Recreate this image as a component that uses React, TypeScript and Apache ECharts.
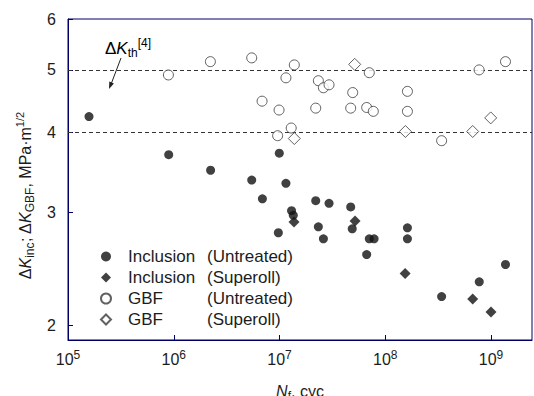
import React, { useEffect, useRef } from 'react';
import * as echarts from 'echarts';

// ---- data (N_f in cycles, ΔK in MPa·m^1/2) ----
const xMin = 1e5;
const xMax = 2.44e9;
const yMin = 1.9;
const yMax = 6;
const yTicks = [2, 3, 4, 5, 6];
const thresholdLines = [5, 4];
const seriesNames = ['Inclusion (Untreated)', 'Inclusion (Superoll)', 'GBF (Untreated)', 'GBF (Superoll)'];

const incUntreated: [number, number][] = [
  [1.58e5, 4.23], [8.96e5, 3.69], [2.23e6, 3.49], [5.46e6, 3.37], [6.89e6, 3.15],
  [9.95e6, 3.71], [1.15e7, 3.33], [9.75e6, 2.79], [1.3e7, 3.02], [1.35e7, 2.97],
  [2.2e7, 3.13], [2.94e7, 3.1], [4.71e7, 3.06], [2.33e7, 2.85], [2.6e7, 2.73],
  [4.87e7, 2.83], [7.06e7, 2.73], [7.84e7, 2.73], [6.67e7, 2.58], [1.62e8, 2.84],
  [1.62e8, 2.73], [3.41e8, 2.22], [7.74e8, 2.34], [1.37e9, 2.49],
];
const incSuperoll: [number, number][] = [
  [1.37e7, 2.9], [5.18e7, 2.91], [1.54e8, 2.41], [6.71e8, 2.2], [1.0e9, 2.1],
];
const gbfUntreated: [number, number][] = [
  [8.9e5, 4.91], [2.22e6, 5.15], [5.46e6, 5.22], [1.38e7, 5.09], [1.15e7, 4.86],
  [6.84e6, 4.47], [9.9e6, 4.33], [1.29e7, 4.06], [9.6e6, 3.95], [2.33e7, 4.81],
  [2.6e7, 4.69], [2.94e7, 4.74], [7.06e7, 4.95], [4.92e7, 4.61], [1.62e8, 4.63],
  [2.2e7, 4.36], [4.71e7, 4.36], [6.67e7, 4.37], [7.71e7, 4.31], [1.62e8, 4.31],
  [3.41e8, 3.88], [7.71e8, 5.0], [1.37e9, 5.15],
];
const gbfSuperoll: [number, number][] = [
  [1.38e7, 3.91], [5.14e7, 5.1], [1.55e8, 4.01], [6.71e8, 4.01], [9.93e8, 4.21],
];

export default function App() {
  const ref = useRef<HTMLDivElement>(null);
  useEffect(() => {
    const chart = echarts.init(ref.current!, null, { renderer: 'svg' });
    const FONT = '"Liberation Sans", Arial, sans-serif';
    const TXT = '#1c1c1c';
    const FRAME = '#000066';
    const richBase = {
      n: { fontFamily: FONT, fontSize: 16, lineHeight: 22, color: TXT },
      i: { fontFamily: FONT, fontSize: 16, lineHeight: 22, color: TXT, fontStyle: 'italic' },
      sub: { fontFamily: FONT, fontSize: 12, lineHeight: 12, color: TXT, verticalAlign: 'bottom' },
      sup: { fontFamily: FONT, fontSize: 11, lineHeight: 12, color: TXT, verticalAlign: 'top' },
    };
    const openStyle = { color: '#ffffff', borderColor: '#3a3a3a', borderWidth: 1 };
    const filledStyle = { color: '#111111' };

    chart.setOption({
      animation: false,
      grid: {
        left: 68, right: 2, top: 19, bottom: 56,
        containLabel: false,
        outerBoundsMode: 'none',
        show: true, borderColor: FRAME, borderWidth: 1,
      },
      legend: {
        orient: 'vertical',
        left: 95,
        top: 243,
        itemWidth: 10,
        itemHeight: 10,
        itemGap: 4,
        data: seriesNames,
        formatter: (name: string) => {
          const k = name.indexOf(' (');
          return `{g| }{a|${name.slice(0, k)}}{b|${name.slice(k + 1)}}`;
        },
        textStyle: {
          rich: {
            g: { width: 12, fontSize: 17, lineHeight: 17 },
            a: { width: 79, fontFamily: FONT, fontSize: 17, lineHeight: 17, color: TXT },
            b: { fontFamily: FONT, fontSize: 17, lineHeight: 17, color: TXT },
          },
        },
      },
      xAxis: {
        type: 'log',
        min: xMin,
        max: xMax,
        logBase: 10,
        name: '{i|N}{sub|f}{n|, cyc}',
        nameLocation: 'middle',
        nameGap: 40,
        nameTextStyle: { rich: richBase },
        axisLine: { show: true, onZero: false, lineStyle: { color: FRAME, width: 1 } },
        axisTick: { show: true, inside: true, length: 5, lineStyle: { color: FRAME, width: 1 } },
        minorTick: { show: false },
        splitLine: { show: false },
        axisLabel: {
          margin: 9,
          showMaxLabel: false,
          formatter: (v: number) => `{b|10}{s|${Math.round(Math.log10(v))}}`,
          rich: {
            b: { fontFamily: FONT, fontSize: 16, lineHeight: 20, color: TXT },
            s: { fontFamily: FONT, fontSize: 12, lineHeight: 15, color: TXT, verticalAlign: 'top' },
          },
        },
      },
      yAxis: [
        {
          type: 'log',
          min: yMin,
          max: yMax,
          axisLine: { show: true, onZero: false, lineStyle: { color: FRAME, width: 1 } },
          axisTick: { show: false },
          axisLabel: { show: false },
          splitLine: { show: false },
          minorTick: { show: false },
        },
        {
          type: 'value',
          position: 'left',
          min: Math.log10(yMin),
          max: Math.log10(yMax),
          name: '{n|Δ}{i|K}{sub|inc}{n|; Δ}{i|K}{sub|GBF}{n|, MPa·m}{sup|1/2}',
          nameLocation: 'middle',
          nameRotate: 90,
          nameGap: 14,
          nameTextStyle: { rich: richBase, padding: [0, 32, 0, 0] },
          axisLine: { show: false, onZero: false },
          splitLine: { show: false },
          axisTick: {
            show: true, inside: true, length: 5, lineStyle: { color: FRAME, width: 1 },
            customValues: yTicks.map((v) => Math.log10(v)),
          },
          axisLabel: {
            margin: 12,
            fontFamily: FONT,
            fontSize: 16,
            color: TXT,
            customValues: yTicks.map((v) => Math.log10(v)),
            formatter: (v: number) => String(Math.round(Math.pow(10, v))),
          },
        },
      ],
      series: [
        {
          name: seriesNames[0], type: 'scatter', yAxisIndex: 0,
          symbol: 'circle', symbolSize: 9, itemStyle: filledStyle, data: incUntreated, z: 4,
        },
        {
          name: seriesNames[1], type: 'scatter', yAxisIndex: 0,
          symbol: 'diamond', symbolSize: 11, itemStyle: filledStyle, data: incSuperoll, z: 4,
        },
        {
          name: seriesNames[2], type: 'scatter', yAxisIndex: 0,
          symbol: 'circle', symbolSize: 10, itemStyle: openStyle, data: gbfUntreated, z: 3,
          markLine: {
            silent: true,
            symbol: 'none',
            label: { show: false },
            lineStyle: { color: '#333', width: 1, type: [4, 3] },
            data: thresholdLines.map((v) => ({ yAxis: v })),
            z: 1,
          },
        },
        {
          name: seriesNames[3], type: 'scatter', yAxisIndex: 0,
          symbol: 'diamond', symbolSize: 12, itemStyle: openStyle, data: gbfSuperoll, z: 3,
        },
      ],
      graphic: [
        {
          type: 'text',
          left: 105,
          top: 37,
          style: {
            text: '{n|Δ}{i|K}{sub|th}{sup|[4]}',
            rich: {
              n: { fontFamily: FONT, fontSize: 17, lineHeight: 22, color: TXT },
              i: { fontFamily: FONT, fontSize: 17, lineHeight: 22, color: TXT, fontStyle: 'italic' },
              sub: { fontFamily: FONT, fontSize: 12, lineHeight: 12, color: TXT, verticalAlign: 'bottom' },
              sup: { fontFamily: FONT, fontSize: 12, lineHeight: 12, color: TXT, verticalAlign: 'top' },
            },
          },
        },
        {
          type: 'line',
          shape: { x1: 121, y1: 58, x2: 111.5, y2: 83 },
          style: { stroke: '#222', lineWidth: 1 },
        },
        {
          type: 'polygon',
          shape: { points: [[109, 89], [113.9, 83.4], [109.3, 81.6]] },
          style: { fill: '#222' },
        },
      ],
    });
    return () => chart.dispose();
  }, []);
  return <div ref={ref} style={{ position: 'absolute', left: 0, top: 0, width: 534, height: 396 }} />;
}
